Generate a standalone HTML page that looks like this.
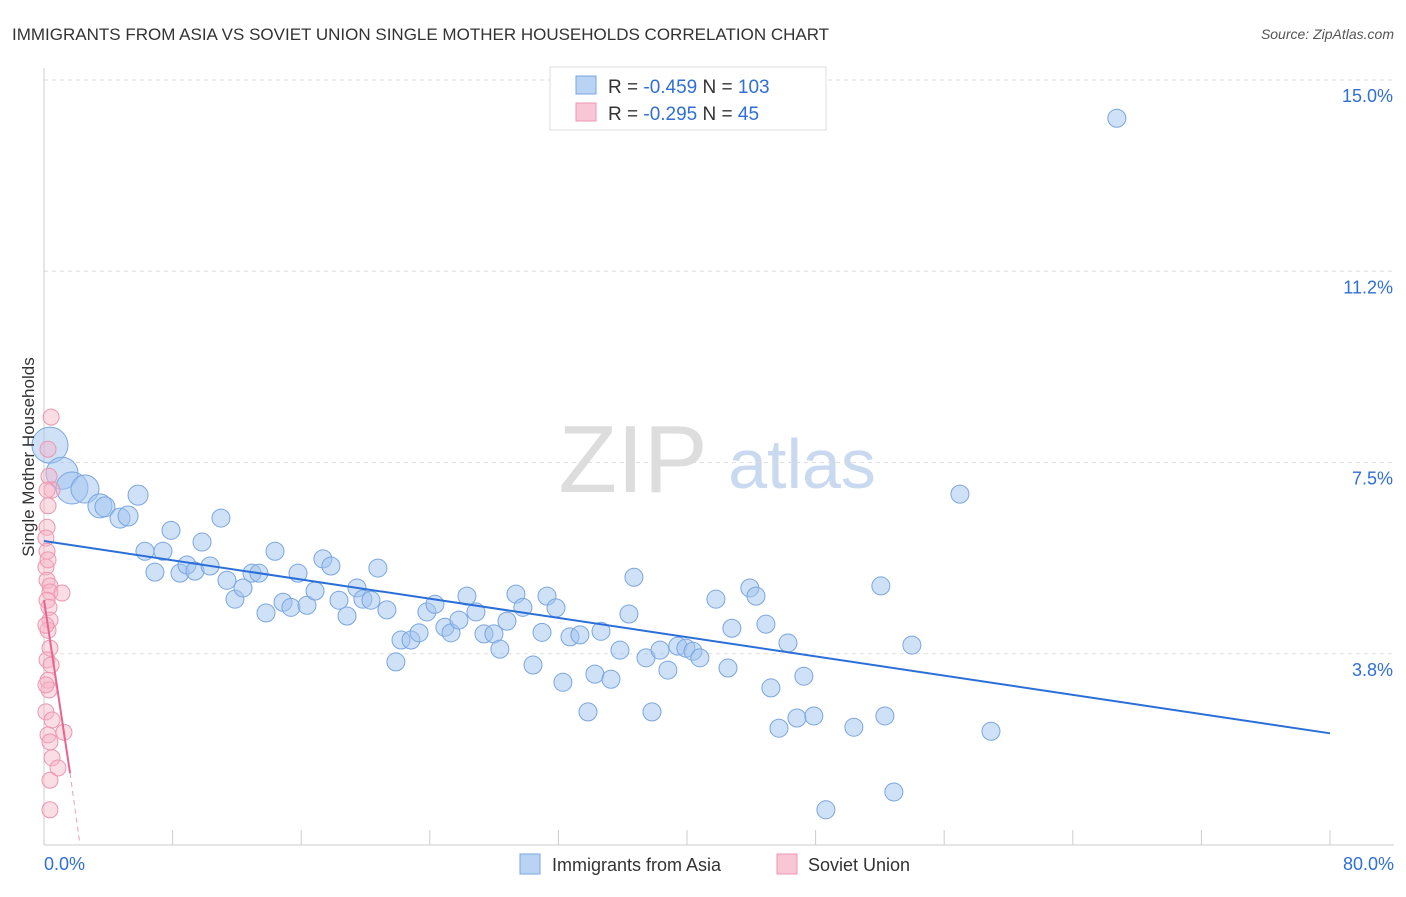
<!DOCTYPE html>
<html><head><meta charset="utf-8"><style>
body{margin:0;background:#fff;font-family:"Liberation Sans",sans-serif}
svg text{font-family:"Liberation Sans",sans-serif}
</style></head><body>
<svg id="chart" width="1406" height="892">
<text x="12" y="40" font-size="17" fill="#333">IMMIGRANTS FROM ASIA VS SOVIET UNION SINGLE MOTHER HOUSEHOLDS CORRELATION CHART</text>
<text x="1394" y="39" font-size="14" fill="#555" font-style="italic" text-anchor="end">Source: ZipAtlas.com</text>
<g><text x="633" y="492" font-size="96" fill="#ddd" font-family="Liberation Serif" text-anchor="middle">ZIP</text><text x="802" y="488" font-size="70" fill="#c9daf0" text-anchor="middle">atlas</text></g>
<g id="grid"></g><g id="axes"></g><g id="marks"></g>
<text transform="translate(34,457) rotate(-90)" font-size="17" fill="#333" text-anchor="middle">Single Mother Households</text>
<g>
<rect x="550" y="67" width="276" height="63" fill="#fff" stroke="#ddd"/>
<rect x="576" y="76" width="20" height="18" fill="#b9d3f5" stroke="#7aa6e0"/>
<rect x="576" y="103" width="20" height="18" fill="#f9c6d5" stroke="#ec96b0"/>
<text x="608" y="93" font-size="19" fill="#333">R = <tspan fill="#2f6fd6">-0.459</tspan>    N = <tspan fill="#2f6fd6">103</tspan></text>
<text x="608" y="120" font-size="19" fill="#333">R = <tspan fill="#2f6fd6">-0.295</tspan>    N =   <tspan fill="#2f6fd6">45</tspan></text>
</g>
<g>
<rect x="520" y="854" width="20" height="20" fill="#b9d3f5" stroke="#7aa6e0"/>
<text x="552" y="871" font-size="18" fill="#333">Immigrants from Asia</text>
<rect x="777" y="854" width="20" height="20" fill="#f9c6d5" stroke="#ec96b0"/>
<text x="808" y="871" font-size="18" fill="#333">Soviet Union</text>
</g>
</svg>
<script>
const yTicks=[3.75,7.5,11.25,15];
const yTickLabels=["3.8%","7.5%","11.2%","15.0%"];
const xTickLabels=["0.0%","80.0%"];
const asiaX=[0.37,1.12,1.74,2.55,3.48,3.79,4.73,5.23,5.85,6.28,6.90,7.40,7.90,8.46,8.89,9.39,9.83,10.33,11.01,11.38,11.88,12.38,12.94,13.37,13.81,14.37,14.87,15.36,15.80,16.36,16.86,17.35,17.85,18.35,18.85,19.47,19.84,20.34,20.77,21.33,21.89,22.21,22.83,23.33,23.82,24.32,24.94,25.32,25.81,26.31,26.87,27.37,27.99,28.36,28.80,29.36,29.79,30.42,30.98,31.29,31.85,32.28,32.72,33.34,33.84,34.27,34.65,35.27,35.83,36.39,36.70,37.45,37.82,38.32,38.81,39.43,39.93,40.37,40.80,41.80,42.55,42.79,43.91,44.29,44.91,45.22,45.72,46.28,46.84,47.27,47.89,48.64,50.38,52.06,52.31,52.87,53.99,56.98,58.91,66.74];
const asiaY=[7.84,7.29,7.00,6.98,6.65,6.63,6.41,6.45,6.86,5.76,5.35,5.76,6.17,5.33,5.49,5.37,5.94,5.47,6.41,5.19,4.82,5.04,5.33,5.33,4.55,5.76,4.76,4.66,5.33,4.70,4.98,5.61,5.47,4.80,4.49,5.04,4.82,4.80,5.43,4.61,3.59,4.02,4.02,4.16,4.57,4.72,4.27,4.16,4.41,4.88,4.57,4.14,4.14,3.84,4.39,4.92,4.66,3.53,4.17,4.88,4.65,3.19,4.08,4.12,2.61,3.35,4.19,3.25,3.82,4.53,5.25,3.67,2.61,3.82,3.43,3.90,3.86,3.80,3.67,4.82,3.47,4.25,5.04,4.88,4.33,3.08,2.29,3.96,2.49,3.31,2.53,0.69,2.31,5.08,2.53,1.04,3.92,6.88,2.23,14.25];
const asiaSize=[18,16,16,14,12,10,10,10,10];
const sovX=[0.44,0.25,0.31,0.50,0.19,0.25,0.19,0.12,0.19,0.12,0.19,0.37,0.37,0.19,1.12,0.31,0.37,0.25,0.37,0.19,0.44,0.25,0.31,0.12,0.12,0.50,0.25,1.24,0.37,0.50,0.87,0.37,0.37,0.25,0.12];
const sovY=[8.39,7.76,7.23,6.96,6.96,6.65,6.23,6.02,5.76,5.45,5.19,5.08,4.96,4.80,4.94,4.66,4.41,4.21,3.86,3.63,3.53,3.23,3.04,3.14,2.61,2.45,2.16,2.21,2.02,1.71,1.51,1.27,0.69,5.59,4.31];
const asiaTrend=[[0,5.96],[80,2.19]];
const sovTrend=[[0,4.80],[1.62,1.41]];
const sovTrendExt=[[1.62,1.41],[2.24,0]];
const NS="http://www.w3.org/2000/svg";
const X=v=>44+v/80*1286, Y=v=>845-v/15*765;
function mk(t,a,p){const e=document.createElementNS(NS,t);for(const k in a)e.setAttribute(k,a[k]);document.getElementById(p).appendChild(e);return e;}
yTicks.forEach((t,i)=>{
 const g=mk('line',{x1:44,x2:1394,y1:Y(t),y2:Y(t),stroke:'#ddd','stroke-dasharray':'4,4'},'grid');
 
 
 const l=mk('text',{x:1393,y:Y(t)+22,'font-size':18,fill:'#2f6fd6','text-anchor':'end'},'axes');l.textContent=yTickLabels[i];
 
 
});
const tl=mk('line',{x1:44,x2:1394,y1:Y(15),y2:Y(15),stroke:'#ddd','stroke-dasharray':'4,4'},'grid');
const ya=mk('line',{x1:44,x2:44,y1:68,y2:845,stroke:'#ccc'},'axes');


const xa=mk('line',{x1:44,x2:1394,y1:845,y2:845,stroke:'#ccc'},'axes');


for(let v=0;v<=80;v+=8){const t=mk('line',{x1:X(v),x2:X(v),y1:830,y2:845,stroke:'#ccc'},'axes');
 
 }
[[0,'start',44],[80,'end',1394]].forEach((d,i)=>{const t=mk('text',{x:d[2],y:870,'font-size':18,fill:'#2f6fd6','text-anchor':d[1]},'axes');t.textContent=xTickLabels[i];
 
 });
asiaX.forEach((x,i)=>{const c=mk('circle',{cx:X(x),cy:Y(asiaY[i]),r:asiaSize[i]||9,fill:'rgba(160,195,240,0.5)',stroke:'#7aa6e0','stroke-width':1},'marks');
 
 });
sovX.forEach((x,i)=>{const c=mk('circle',{cx:X(x),cy:Y(sovY[i]),r:8,fill:'rgba(247,180,200,0.45)',stroke:'#ec96b0','stroke-width':1},'marks');
 
 });
const a=mk('line',{x1:X(asiaTrend[0][0]),y1:Y(asiaTrend[0][1]),x2:X(asiaTrend[1][0]),y2:Y(asiaTrend[1][1]),stroke:'#2a6fd8','stroke-width':2},'marks');


const s=mk('line',{x1:X(sovTrend[0][0]),y1:Y(sovTrend[0][1]),x2:X(sovTrend[1][0]),y2:Y(sovTrend[1][1]),stroke:'#e8638f','stroke-width':2},'marks');


const s2=mk('line',{x1:X(sovTrendExt[0][0]),y1:Y(sovTrendExt[0][1]),x2:X(sovTrendExt[1][0]),y2:Y(sovTrendExt[1][1]),stroke:'#e8a0b8','stroke-width':1,'stroke-dasharray':'5,4'},'marks');


</script>
</body></html>
